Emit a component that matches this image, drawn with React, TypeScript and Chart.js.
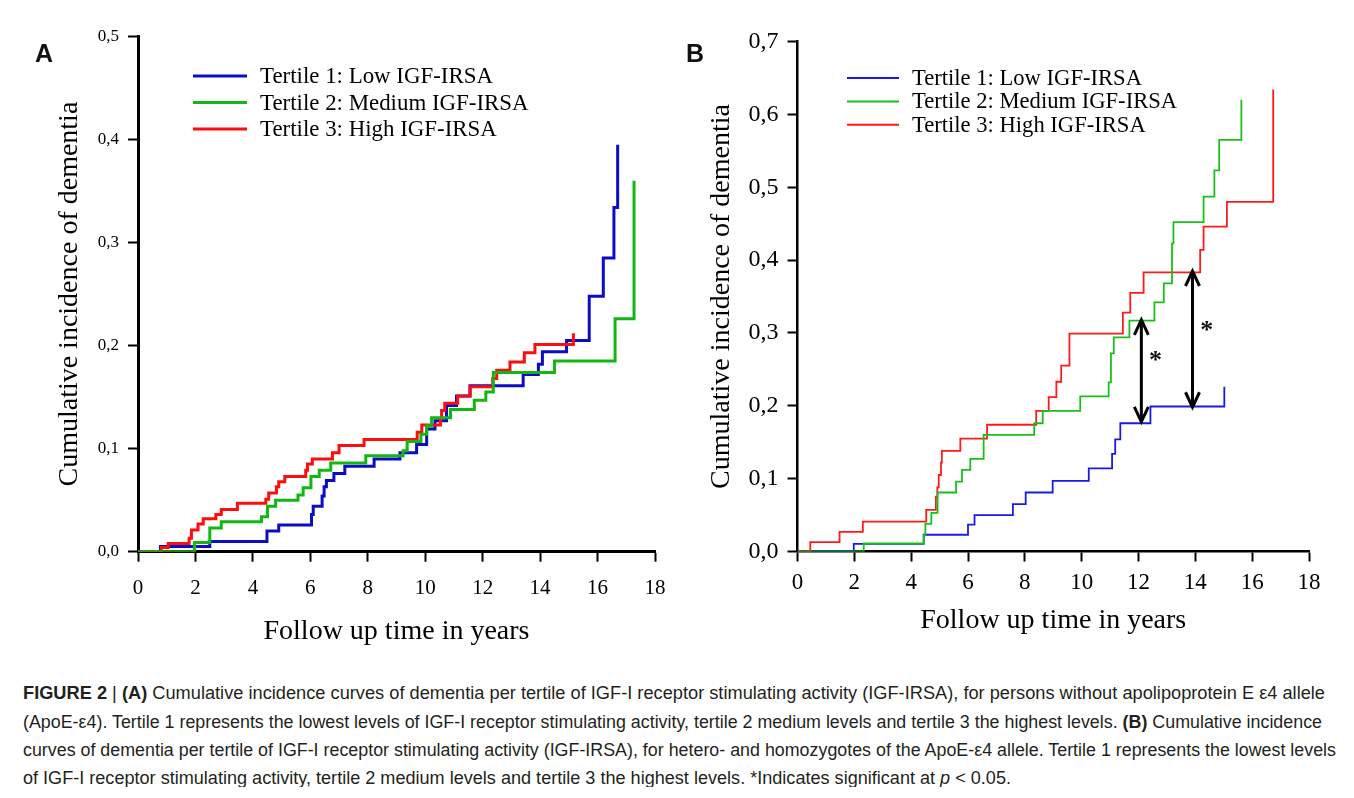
import React, { useEffect, useLayoutEffect, useRef } from 'react';
import { Chart, registerables } from 'chart.js';

Chart.register(...registerables);

const SERIF = "'Liberation Serif', 'Times New Roman', serif";
const SANS = "'Liberation Sans', Arial, sans-serif";

// ---------- shared axis data ----------
const xTickValues = [0, 2, 4, 6, 8, 10, 12, 14, 16, 18];
const xTickLabels = ['0', '2', '4', '6', '8', '10', '12', '14', '16', '18'];
const yTickValuesA = [0, 0.1, 0.2, 0.3, 0.4, 0.5];
const yTickLabelsA = ['0,0', '0,1', '0,2', '0,3', '0,4', '0,5'];
const yTickValuesB = [0, 0.1, 0.2, 0.3, 0.4, 0.5, 0.6, 0.7];
const yTickLabelsB = ['0,0', '0,1', '0,2', '0,3', '0,4', '0,5', '0,6', '0,7'];

const seriesLabels = ['Tertile 1: Low IGF-IRSA', 'Tertile 2: Medium IGF-IRSA', 'Tertile 3: High IGF-IRSA'];
const xTitle = 'Follow up time in years';
const yTitle = 'Cumulative incidence of dementia';

// ---------- Panel A (no ApoE-e4) ----------
const timeA1 = [0, 0.78, 2.5, 4.49, 4.9, 6.04, 6.1, 6.41, 6.48, 6.56, 6.82, 7.2, 8.22, 9.12, 9.7, 10.05, 10.34, 10.74, 11.09, 11.56, 13.41, 13.94, 14.08, 14.92, 15.71, 16.2, 16.57, 16.7];
const incA1 = [0, 0.005, 0.01, 0.02, 0.026, 0.036, 0.044, 0.054, 0.063, 0.069, 0.076, 0.083, 0.09, 0.096, 0.104, 0.119, 0.127, 0.142, 0.151, 0.161, 0.172, 0.182, 0.194, 0.205, 0.248, 0.285, 0.334, 0.395];

const timeA2 = [0, 1.97, 2.5, 2.9, 4.3, 4.51, 4.79, 5.57, 5.75, 6.02, 6.31, 6.71, 7.93, 9.23, 9.37, 9.85, 10.05, 10.22, 10.88, 11.71, 12.11, 12.37, 14.5, 16.61, 17.27];
const incA2 = [0, 0.009, 0.023, 0.029, 0.034, 0.044, 0.05, 0.055, 0.062, 0.073, 0.079, 0.086, 0.093, 0.098, 0.107, 0.114, 0.122, 0.13, 0.138, 0.147, 0.155, 0.174, 0.185, 0.226, 0.36];

const timeA3 = [0, 0.81, 1.05, 1.78, 1.86, 2.09, 2.27, 2.71, 2.9, 3.46, 4.45, 4.55, 4.82, 4.9, 5.11, 5.84, 5.9, 6.07, 6.77, 7.0, 7.87, 9.72, 9.88, 10.53, 10.57, 10.68, 11.13, 11.56, 12.35, 12.49, 12.95, 13.45, 13.82, 15.16];
const incA3 = [0, 0.004, 0.008, 0.013, 0.021, 0.027, 0.032, 0.036, 0.041, 0.047, 0.051, 0.057, 0.063, 0.068, 0.073, 0.079, 0.085, 0.09, 0.096, 0.103, 0.109, 0.116, 0.123, 0.129, 0.137, 0.144, 0.151, 0.16, 0.168, 0.176, 0.184, 0.193, 0.201, 0.212];

// ---------- Panel B (ApoE-e4 carriers) ----------
const timeB1 = [0, 1.98, 4.44, 6.0, 6.23, 7.58, 8.03, 8.98, 10.25, 11.07, 11.18, 11.36, 12.42, 15.02];
const incB1 = [0, 0.0105, 0.023, 0.037, 0.05, 0.065, 0.081, 0.097, 0.114, 0.134, 0.154, 0.176, 0.199, 0.226];

const timeB2 = [0, 2.33, 4.44, 4.5, 4.71, 4.93, 5.58, 5.79, 6.08, 6.55, 8.33, 8.63, 9.95, 10.95, 11.03, 11.13, 11.68, 12.56, 12.89, 13.18, 13.23, 14.29, 14.67, 14.84, 15.62];
const incB2 = [0, 0.011, 0.023, 0.038, 0.053, 0.081, 0.096, 0.112, 0.127, 0.16, 0.176, 0.193, 0.213, 0.232, 0.272, 0.294, 0.317, 0.342, 0.368, 0.423, 0.452, 0.487, 0.523, 0.565, 0.62];

const timeB3 = [0, 0.45, 1.48, 2.3, 4.53, 4.87, 4.92, 4.97, 5.05, 5.08, 5.73, 6.67, 8.4, 8.84, 9.11, 9.28, 9.57, 11.45, 11.71, 12.18, 14.17, 14.29, 15.11, 16.74];
const incB3 = [0, 0.013, 0.027, 0.041, 0.057, 0.075, 0.088, 0.105, 0.122, 0.138, 0.155, 0.174, 0.193, 0.212, 0.233, 0.255, 0.299, 0.328, 0.355, 0.383, 0.414, 0.446, 0.48, 0.634];

// significance arrows (panel B)
const arrowTimes = [12.1, 13.9];
const arrowUpper = [0.318, 0.385];
const arrowLower = [0.178, 0.198];
const starTimes = [12.6, 14.4];
const starValues = [0.268, 0.31];

const zip = (t: number[], v: number[]) => t.map((x, i) => ({ x, y: v[i] }));

// ---------- plugins ----------
const insideLegend = {
  id: 'insideLegend',
  afterDatasetsDraw(chart: any, _args: any, opts: any) {
    const { ctx, chartArea } = chart;
    ctx.save();
    ctx.font = `${opts.fontSize}px ${SERIF}`;
    ctx.textBaseline = 'middle';
    ctx.textAlign = 'left';
    ctx.fillStyle = '#000';
    chart.data.datasets.forEach((ds: any, i: number) => {
      const y = chartArea.top + opts.top + i * opts.rowGap;
      ctx.strokeStyle = ds.borderColor;
      ctx.lineWidth = opts.lineWidth;
      ctx.beginPath();
      ctx.moveTo(chartArea.left + opts.x1, y);
      ctx.lineTo(chartArea.left + opts.x2, y);
      ctx.stroke();
      ctx.fillText(ds.label, chartArea.left + opts.textX, y + 1);
    });
    ctx.restore();
  },
};

const sigArrows = {
  id: 'sigArrows',
  afterDatasetsDraw(chart: any, _args: any, opts: any) {
    if (!opts || !opts.enabled) return;
    const { ctx, scales } = chart;
    const xs = scales.x, ys = scales.y;
    ctx.save();
    ctx.strokeStyle = '#000';
    ctx.lineWidth = 3;
    ctx.lineJoin = 'miter';
    arrowTimes.forEach((t, i) => {
      const px = xs.getPixelForValue(t);
      const top = ys.getPixelForValue(arrowUpper[i]);
      const bot = ys.getPixelForValue(arrowLower[i]);
      ctx.beginPath();
      ctx.moveTo(px, top + 1);
      ctx.lineTo(px, bot - 1);
      ctx.stroke();
      ctx.beginPath();
      ctx.moveTo(px - 7, top + 15);
      ctx.lineTo(px, top);
      ctx.lineTo(px + 7, top + 15);
      ctx.stroke();
      ctx.beginPath();
      ctx.moveTo(px - 7, bot - 15);
      ctx.lineTo(px, bot);
      ctx.lineTo(px + 7, bot - 15);
      ctx.stroke();
    });
    ctx.fillStyle = '#111';
    ctx.font = `bold 26px ${SERIF}`;
    ctx.textAlign = 'center';
    ctx.textBaseline = 'alphabetic';
    starTimes.forEach((t, i) => {
      const px = xs.getPixelForValue(t);
      const py = ys.getPixelForValue(starValues[i]);
      const m = ctx.measureText('*');
      const off = (m.actualBoundingBoxAscent - m.actualBoundingBoxDescent) / 2;
      ctx.fillText('*', px, py + off);
    });
    ctx.restore();
  },
};

type PanelCfg = {
  width: number;
  height: number;
  padTop: number;
  padRight: number;
  yScaleWidth: number;
  xScaleHeight: number;
  yMax: number;
  yTickValues: number[];
  yTickLabels: string[];
  yTickFont: number;
  xTickFont: number;
  yTickPad: number;
  xTickPad: number;
  yTitlePad: number;
  xTitlePad: number;
  axisWidth: number;
  lineWidth: number;
  colors: string[];
  series: { x: number; y: number }[][];
  legend: any;
  arrows: boolean;
};

function Panel({ cfg, style }: { cfg: PanelCfg; style: React.CSSProperties }) {
  const ref = useRef<HTMLCanvasElement>(null);
  useEffect(() => {
    if (!ref.current) return;
    const orders = [2, 0, 1];
    const chart = new Chart(ref.current, {
      type: 'line',
      data: {
        datasets: cfg.series.map((pts, i) => ({
          label: seriesLabels[i],
          data: pts,
          borderColor: cfg.colors[i],
          backgroundColor: cfg.colors[i],
          borderWidth: cfg.lineWidth,
          stepped: 'before',
          pointRadius: 0,
          fill: false,
          order: orders[i],
        })),
      },
      options: {
        responsive: false,
        animation: false,
        devicePixelRatio: 1,
        parsing: false,
        layout: { padding: { top: cfg.padTop, right: cfg.padRight, left: 0, bottom: 0 } },
        plugins: {
          legend: { display: false },
          tooltip: { enabled: false },
          insideLegend: cfg.legend,
          sigArrows: { enabled: cfg.arrows },
        } as any,
        scales: {
          x: {
            type: 'linear',
            min: 0,
            max: 18,
            afterBuildTicks: (s: any) => {
              s.ticks = xTickValues.map((v) => ({ value: v }));
            },
            afterFit: (s: any) => {
              s.height = cfg.xScaleHeight;
            },
            ticks: {
              autoSkip: false,
              maxRotation: 0,
              color: '#000',
              padding: cfg.xTickPad,
              font: { family: SERIF, size: cfg.xTickFont },
              callback: (_v: any, i: number) => xTickLabels[i],
            },
            grid: { drawOnChartArea: false, drawTicks: true, tickLength: 10, tickWidth: 2, tickColor: '#000', color: '#000' },
            border: { display: true, color: '#000', width: cfg.axisWidth },
            title: {
              display: true,
              text: xTitle,
              color: '#000',
              font: { family: SERIF, size: 28, lineHeight: 1.2 },
              padding: { top: 0, bottom: cfg.xTitlePad },
            },
          },
          y: {
            type: 'linear',
            min: 0,
            max: cfg.yMax,
            afterBuildTicks: (s: any) => {
              s.ticks = cfg.yTickValues.map((v) => ({ value: v }));
            },
            afterFit: (s: any) => {
              s.width = cfg.yScaleWidth;
            },
            ticks: {
              autoSkip: false,
              color: '#000',
              padding: cfg.yTickPad,
              font: { family: SERIF, size: cfg.yTickFont },
              callback: (_v: any, i: number) => cfg.yTickLabels[i],
            },
            grid: { drawOnChartArea: false, drawTicks: true, tickLength: 10, tickWidth: 2, tickColor: '#000', color: '#000' },
            border: { display: true, color: '#000', width: cfg.axisWidth },
            title: {
              display: true,
              text: yTitle,
              color: '#000',
              font: { family: SERIF, size: 28, lineHeight: 1.2 },
              padding: { top: cfg.yTitlePad, bottom: 0 },
            },
          },
        },
      } as any,
      plugins: [insideLegend, sigArrows],
    });
    return () => chart.destroy();
  }, []);
  return <canvas ref={ref} width={cfg.width} height={cfg.height} style={{ position: 'absolute', ...style }} />;
}

const cfgA: PanelCfg = {
  width: 672,
  height: 652,
  padTop: 28.5,
  padRight: 25,
  yScaleWidth: 130,
  xScaleHeight: 108.3,
  yMax: 0.5,
  yTickValues: yTickValuesA,
  yTickLabels: yTickLabelsA,
  yTickFont: 17,
  xTickFont: 21,
  yTickPad: 9,
  xTickPad: 14.5,
  yTitlePad: 45,
  xTitlePad: 12,
  axisWidth: 3,
  lineWidth: 3,
  colors: ['#0c0cc8', '#12b812', '#ff0d0d'],
  series: [zip(timeA1, incA1), zip(timeA2, incA2), zip(timeA3, incA3)],
  legend: { top: 39.5, rowGap: 26.5, x1: 55, x2: 109, textX: 122, lineWidth: 3, fontSize: 22.9 },
  arrows: false,
};

const cfgB: PanelCfg = {
  width: 666,
  height: 652,
  padTop: 33.5,
  padRight: 37,
  yScaleWidth: 117.5,
  xScaleHeight: 108.5,
  yMax: 0.7,
  yTickValues: yTickValuesB,
  yTickLabels: yTickLabelsB,
  yTickFont: 24,
  xTickFont: 23,
  yTickPad: 9,
  xTickPad: 7.5,
  yTitlePad: 25,
  xTitlePad: 23,
  axisWidth: 2.5,
  lineWidth: 1.8,
  colors: ['#1a1ae6', '#18c018', '#ff1a1a'],
  series: [zip(timeB1, incB1), zip(timeB2, incB2), zip(timeB3, incB3)],
  legend: { top: 36.5, rowGap: 23.4, x1: 49.5, x2: 101.5, textX: 114.5, lineWidth: 2, fontSize: 22.6 },
  arrows: true,
};

const captionLines: React.ReactNode[] = [
  <>
    <b>FIGURE 2</b> | <b>(A)</b> Cumulative incidence curves of dementia per tertile of IGF-I receptor stimulating activity (IGF-IRSA), for persons without apolipoprotein E ε4 allele
  </>,
  <>
    (ApoE-ε4). Tertile 1 represents the lowest levels of IGF-I receptor stimulating activity, tertile 2 medium levels and tertile 3 the highest levels. <b>(B)</b> Cumulative incidence
  </>,
  <>curves of dementia per tertile of IGF-I receptor stimulating activity (IGF-IRSA), for hetero- and homozygotes of the ApoE-ε4 allele. Tertile 1 represents the lowest levels</>,
  <>
    of IGF-I receptor stimulating activity, tertile 2 medium levels and tertile 3 the highest levels. *Indicates significant at <i>p</i> &lt; 0.05.
  </>,
];
const captionWidths = [1302, 1299, 1313, 988];
const captionCenters = [686, 715, 743, 771];

function CaptionLine({ children, width, center }: { children: React.ReactNode; width: number; center: number }) {
  const ref = useRef<HTMLDivElement>(null);
  useLayoutEffect(() => {
    const el = ref.current;
    if (!el) return;
    el.style.transform = 'none';
    const w = el.getBoundingClientRect().width;
    if (w > 0) el.style.transform = `scaleX(${width / w})`;
  }, [width]);
  return (
    <div
      ref={ref}
      style={{
        position: 'absolute',
        left: 16,
        top: center - 14,
        height: 28,
        lineHeight: '28px',
        whiteSpace: 'nowrap',
        display: 'inline-block',
        transformOrigin: '0 50%',
        fontFamily: "'Liberation Sans Narrow', 'Liberation Sans', Arial, sans-serif",
        fontSize: 17.5,
        color: '#231f20',
      }}
    >
      {children}
    </div>
  );
}

export default function App() {
  useEffect(() => {
    document.body.style.overflow = 'hidden';
  }, []);
  return (
    <div style={{ position: 'relative', marginLeft: -1, marginTop: -1, width: 1346, height: 780 }}>
      <div
        style={{
          position: 'absolute',
          left: 0,
          top: 0,
          width: 1345.5,
          height: 830,
          border: '1.5px solid #6a6a6a',
          boxSizing: 'border-box',
        }}
      />
      <Panel cfg={cfgA} style={{ left: 1, top: 1 }} />
      <Panel cfg={cfgB} style={{ left: 673, top: 1 }} />
      <div style={{ position: 'absolute', left: 28, top: 32.5, fontFamily: SANS, fontWeight: 'bold', fontSize: 25, lineHeight: '26px', color: '#111' }}>A</div>
      <div style={{ position: 'absolute', left: 679, top: 32.5, fontFamily: SANS, fontWeight: 'bold', fontSize: 25, lineHeight: '26px', color: '#111' }}>B</div>
      {captionLines.map((c, i) => (
        <CaptionLine key={i} width={captionWidths[i]} center={captionCenters[i]}>
          {c}
        </CaptionLine>
      ))}
    </div>
  );
}
